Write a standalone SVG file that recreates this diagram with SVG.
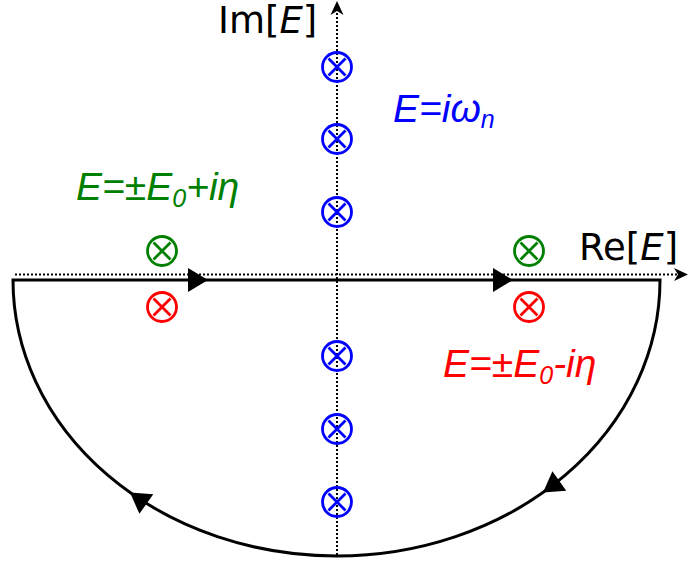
<svg xmlns="http://www.w3.org/2000/svg" xmlns:xlink="http://www.w3.org/1999/xlink" width="689" height="565" viewBox="0 0 689 565">
<style>
text{font-family:"DejaVu Sans","Liberation Sans",sans-serif;font-size:37px}
.it{font-style:italic}
.eq{font-family:"Liberation Sans",Arial,sans-serif;font-style:italic;font-size:39px}
.axis{fill:none;stroke:#000;stroke-width:2;stroke-dasharray:2 2}
.contour{fill:none;stroke:#000;stroke-width:3;stroke-linejoin:miter}
.pole{fill:none;stroke-width:2.8}
.blue{stroke:#0000ff}.green{stroke:#008000}.red{stroke:#ff0000}
</style>
<defs>
<path id="ah" d="M0,0 L-20,-12 L-20,12 Z" fill="#000"/>
<path id="axh" d="M0,0 L-14,-6.5 L-10,0 L-14,6.5 Z" fill="#000"/>
<g id="pole"><circle r="14.5"/><path d="M-8.5,-8.5 L8.5,8.5 M-8.5,8.5 L8.5,-8.5"/></g>
</defs>
<g id="connectors">
<path class="axis" d="M337,555 V10"/>
<use xlink:href="#axh" transform="translate(337,1) rotate(-90)"/>
<path class="axis" d="M15,274.5 H679"/>
<use xlink:href="#axh" transform="translate(688,274.5)"/>
<path id="contour" class="contour" d="M13,280 H660 A323.5,276 0 0 1 13,280 Z"/>
<use xlink:href="#ah" transform="translate(208,280)"/>
<use xlink:href="#ah" transform="translate(513,280)"/>
<use xlink:href="#ah" transform="translate(543,492.5) rotate(144.7)"/>
<use xlink:href="#ah" transform="translate(130,492.5) rotate(-144.7)"/>
</g>
<g id="poles-matsubara" class="pole blue">
<use xlink:href="#pole" x="337" y="67"/>
<use xlink:href="#pole" x="337" y="139"/>
<use xlink:href="#pole" x="337" y="212"/>
<use xlink:href="#pole" x="337" y="356"/>
<use xlink:href="#pole" x="337" y="429"/>
<use xlink:href="#pole" x="337" y="502"/>
</g>
<g id="poles-upper" class="pole green">
<use xlink:href="#pole" x="162" y="251"/>
<use xlink:href="#pole" x="529" y="251"/>
</g>
<g id="poles-lower" class="pole red">
<use xlink:href="#pole" x="162" y="307"/>
<use xlink:href="#pole" x="529" y="307"/>
</g>
<g id="label-im"><text x="218" y="33">Im[<tspan class="it">E</tspan>]</text></g>
<g id="label-re"><text x="579" y="260">Re[<tspan class="it">E</tspan>]</text></g>
<g id="label-matsubara"><text class="eq" x="393" y="122" fill="#0000ff">E=iω<tspan font-size="25" dy="6">n</tspan></text></g>
<g id="label-upper"><text class="eq" x="76" y="200" fill="#008000">E=±E<tspan font-size="25" dy="7">0</tspan><tspan dy="-7">+iη</tspan></text></g>
<g id="label-lower"><text class="eq" x="443" y="377" fill="#ff0000">E=±E<tspan font-size="25" dy="7">0</tspan><tspan dy="-7">-iη</tspan></text></g>
</svg>
